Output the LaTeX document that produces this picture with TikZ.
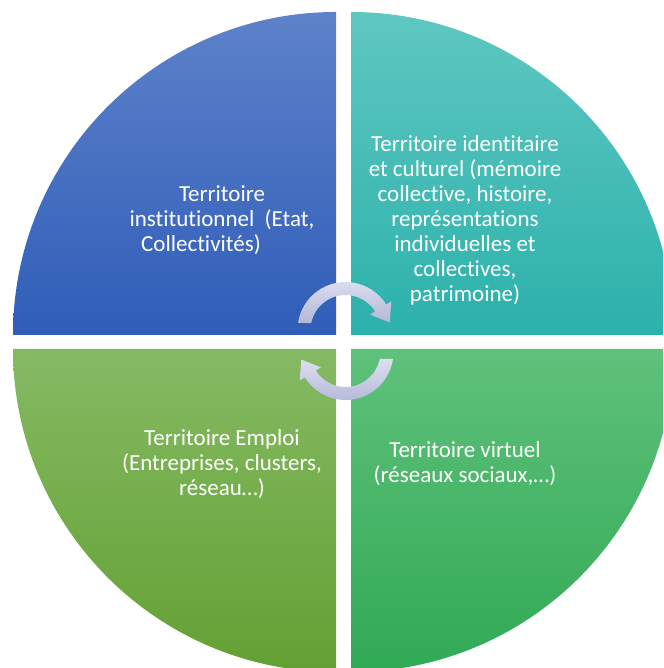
\documentclass[tikz,border=0pt]{standalone}
\usepackage{fontspec}
\setmainfont{Carlito}[Ligatures=CommonOff]

\definecolor{tltop}{HTML}{5E82CA}
\definecolor{tlbot}{HTML}{2F5DB8}
\definecolor{trtop}{HTML}{5FC7C1}
\definecolor{trbot}{HTML}{2CB1AB}
\definecolor{bltop}{HTML}{85BA63}
\definecolor{blbot}{HTML}{63A033}
\definecolor{brtop}{HTML}{5FC17B}
\definecolor{brbot}{HTML}{30AA55}
\definecolor{arrtop}{HTML}{DDDFF0}
\definecolor{arrbot}{HTML}{B3B7D7}

\begin{document}
\begin{tikzpicture}[
        x=1pt, y=1pt,
        quad/.style={draw=none},
        lbl/.style={text=white, align=center, inner sep=0pt, font=\fontsize{23}{25}\selectfont},
        cyc/.style={top color=arrtop, bottom color=arrbot, draw=none}
    ]
        \useasboundingbox (0,0) rectangle (663,668);
        \clip (0,0) rectangle (663,668);

        % Top-left quadrant
        \shade[quad, top color=tltop, bottom color=tlbot]
            (336,333) -- (13,333) arc[start angle=180, end angle=90, radius=323] -- cycle;
        % Top-right quadrant
        \shade[quad, top color=trtop, bottom color=trbot]
            (351,333) -- (351,656) arc[start angle=90, end angle=0, radius=323] -- cycle;
        % Bottom-left quadrant
        \shade[quad, top color=bltop, bottom color=blbot]
            (336,319) -- (336,-4) arc[start angle=270, end angle=180, radius=323] -- cycle;
        % Bottom-right quadrant
        \shade[quad, top color=brtop, bottom color=brbot]
            (351,319) -- (674,319) arc[start angle=0, end angle=-90, radius=323] -- cycle;

        % Labels
        \node[lbl] (institutionnel) at (222,448) {Territoire\\institutionnel~ (Etat,\\Collectivités)\hspace*{42pt}};
        \node[lbl] (identitaire) at (465,448) {Territoire identitaire\\et culturel (mémoire\\collective, histoire,\\représentations\\individuelles et\\collectives,\\patrimoine)};
        \node[lbl] (emploi) at (222,204) {Territoire Emploi\\(Entreprises, clusters,\\réseau…)};
        \node[lbl] (virtuel) at (465,204) {Territoire virtuel\\(réseaux sociaux,…)};

        % Circular arrows
        \begin{scope}[shift={(345.5,338)}]
            \shade[cyc] (171.6:48) arc[start angle=171.6, end angle=32, radius=48]
                -- (32:54) -- (44.2,7.6) -- (32:29) -- (32:35)
                arc[start angle=32, end angle=168.5, radius=35] -- cycle;
        \end{scope}
        \begin{scope}[shift={(345.5,316)}, rotate=180]
            \shade[cyc] (171.6:48) arc[start angle=171.6, end angle=32, radius=48]
                -- (32:54) -- (44.2,7.6) -- (32:29) -- (32:35)
                arc[start angle=32, end angle=168.5, radius=35] -- cycle;
        \end{scope}

    \end{tikzpicture}
\end{document}
